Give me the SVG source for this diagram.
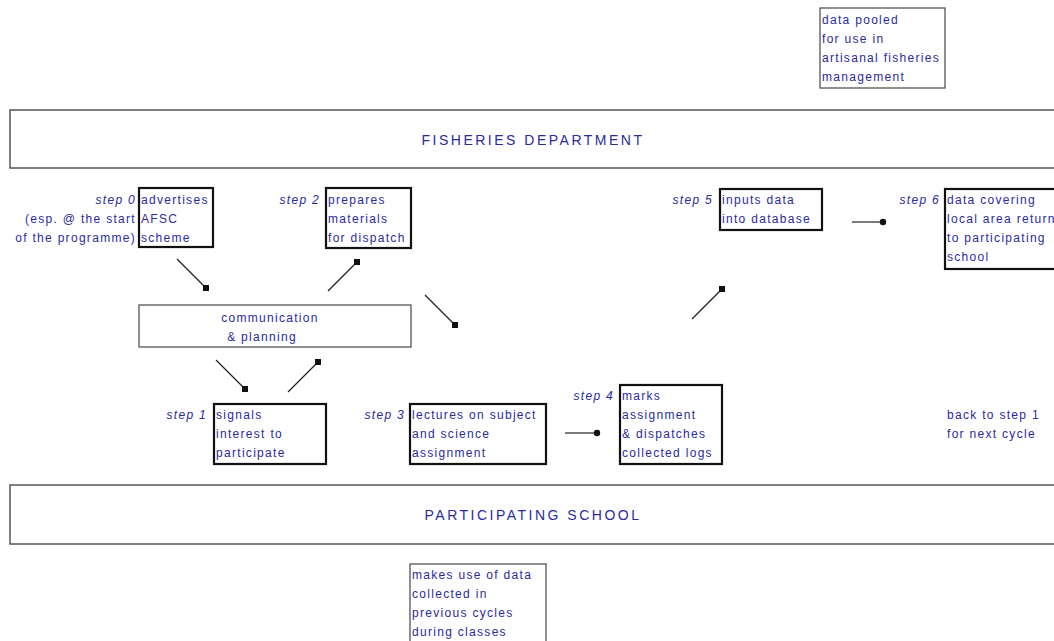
<svg xmlns="http://www.w3.org/2000/svg" width="1054" height="641" viewBox="0 0 1054 641">
<style>
text{font-family:"Liberation Sans",Arial,sans-serif;font-size:12px;fill:#2a2aa0;letter-spacing:1.3px}
.lbl{font-style:italic;text-anchor:end}
.thick{fill:#fff;stroke:#111;stroke-width:2.2}
.thin{fill:#fff;stroke:#555;stroke-width:1.3}
.band{fill:#fff;stroke:#555;stroke-width:1.5}
.big{font-size:14px;text-anchor:middle;letter-spacing:2.5px}
.c{stroke:#222;stroke-width:1.2;fill:none}
.d{fill:#111}
</style>
<g id="pooled"><rect class="thin" x="820" y="8" width="125" height="80"/>
<text x="822" y="24">data pooled</text><text x="822" y="43">for use in</text><text x="822" y="62">artisanal fisheries</text><text x="822" y="81">management</text></g>
<g id="fisheries"><rect class="band" x="10" y="110" width="1050" height="58"/><text class="big" x="533" y="145">FISHERIES DEPARTMENT</text></g>
<g id="school"><rect class="band" x="10" y="485" width="1050" height="59"/><text class="big" x="533" y="520">PARTICIPATING SCHOOL</text></g>
<g id="step0"><rect class="thick" x="139" y="188" width="74" height="59"/>
<text x="141" y="204">advertises</text><text x="141" y="223">AFSC</text><text x="141" y="242">scheme</text>
<text class="lbl" x="136" y="204">step 0</text><text x="136" y="223" text-anchor="end">(esp. @ the start</text><text x="136" y="242" text-anchor="end">of the programme)</text></g>
<g id="step2"><rect class="thick" x="326" y="188" width="85" height="60"/>
<text x="328" y="204">prepares</text><text x="328" y="223">materials</text><text x="328" y="242">for dispatch</text>
<text class="lbl" x="320" y="204">step 2</text></g>
<g id="step5"><rect class="thick" x="720" y="189" width="102" height="41"/>
<text x="722" y="204">inputs data</text><text x="722" y="223">into database</text>
<text class="lbl" x="713" y="204">step 5</text></g>
<g id="step6"><rect class="thick" x="945" y="189" width="115" height="80"/>
<text x="947" y="204">data covering</text><text x="947" y="223">local area returns</text><text x="947" y="242">to participating</text><text x="947" y="261">school</text>
<text class="lbl" x="940" y="204">step 6</text></g>
<g id="comm"><rect class="thin" x="139" y="305" width="272" height="42"/>
<text x="270" y="322" text-anchor="middle">communication</text><text x="262" y="341" text-anchor="middle">&amp; planning</text></g>
<g id="step1"><rect class="thick" x="214" y="404" width="112" height="60"/>
<text x="216" y="419">signals</text><text x="216" y="438">interest to</text><text x="216" y="457">participate</text>
<text class="lbl" x="207" y="419">step 1</text></g>
<g id="step3"><rect class="thick" x="410" y="404" width="136" height="60"/>
<text x="412" y="419">lectures on subject</text><text x="412" y="438">and science</text><text x="412" y="457">assignment</text>
<text class="lbl" x="405" y="419">step 3</text></g>
<g id="step4"><rect class="thick" x="620" y="385" width="102" height="79"/>
<text x="622" y="400">marks</text><text x="622" y="419">assignment</text><text x="622" y="438">&amp; dispatches</text><text x="622" y="457">collected logs</text>
<text class="lbl" x="614" y="400">step 4</text></g>
<g id="back"><text x="947" y="419">back to step 1</text><text x="947" y="438">for next cycle</text></g>
<g id="uses"><rect class="thin" x="410" y="564" width="136" height="80"/>
<text x="412" y="579">makes use of data</text><text x="412" y="598">collected in</text><text x="412" y="617">previous cycles</text><text x="412" y="636">during classes</text></g>
<g id="connectors">
<line class="c" x1="177" y1="259" x2="206" y2="288"/><rect class="d" x="203" y="285" width="6" height="6"/>
<line class="c" x1="328" y1="291" x2="357" y2="262"/><rect class="d" x="354" y="259" width="6" height="6"/>
<line class="c" x1="425" y1="295" x2="455" y2="325"/><rect class="d" x="452" y="322" width="6" height="6"/>
<line class="c" x1="692" y1="319" x2="722" y2="289"/><rect class="d" x="719" y="286" width="6" height="6"/>
<line class="c" x1="852" y1="222" x2="883" y2="222"/><circle class="d" cx="883" cy="222" r="3.2"/>
<line class="c" x1="216" y1="360" x2="245" y2="389"/><rect class="d" x="242" y="386" width="6" height="6"/>
<line class="c" x1="288" y1="392" x2="318" y2="362"/><rect class="d" x="315" y="359" width="6" height="6"/>
<line class="c" x1="565" y1="433" x2="597" y2="433"/><circle class="d" cx="597" cy="433" r="3.2"/>
</g>
</svg>
